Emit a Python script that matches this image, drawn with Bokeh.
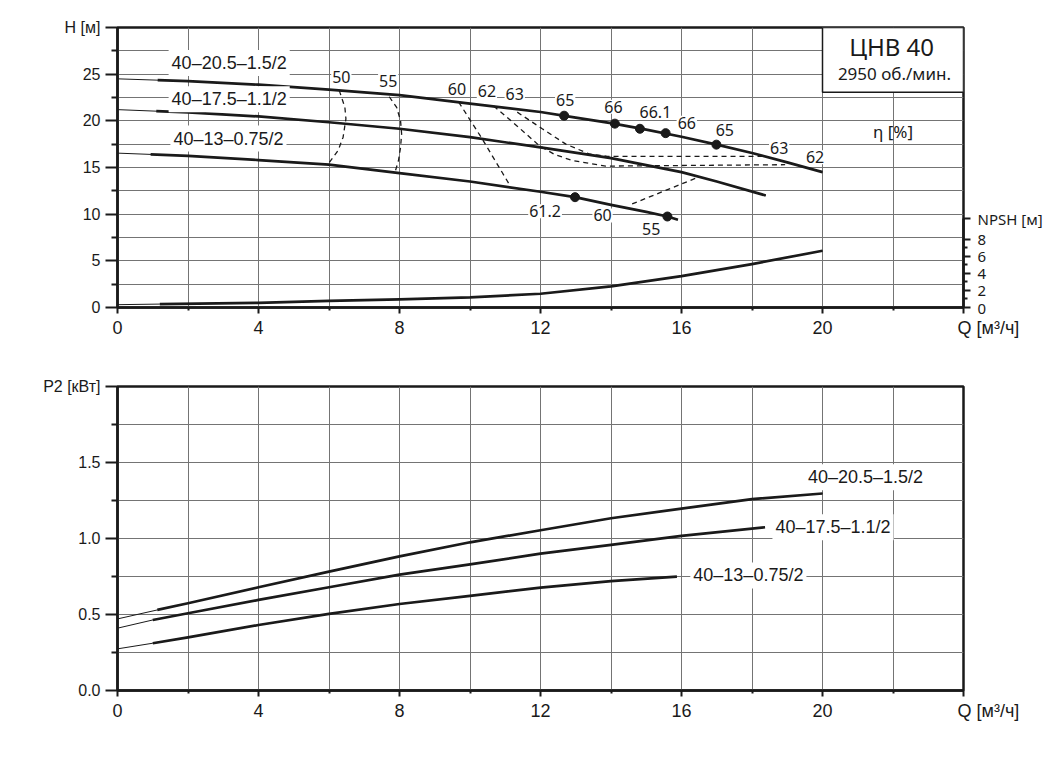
import numpy as np
from bokeh.plotting import figure
from bokeh.models import Range1d, LinearAxis, FixedTicker, Label, BoxAnnotation
from bokeh.layouts import column
from bokeh.embed import file_html
from bokeh.resources import INLINE

# ---------------- data ----------------
# Head curves H(Q)
q_top = [0, 2, 4, 6, 8, 10, 12, 13, 14, 15, 16, 17, 18, 19, 20]
h_top = [24.5, 24.25, 23.87, 23.35, 22.75, 21.85, 20.95, 20.35, 19.75, 19.05, 18.3, 17.45, 16.55, 15.55, 14.5]
q_mid = [0, 2, 4, 6, 8, 10, 12, 14, 16, 17, 18.39]
h_mid = [21.2, 20.9, 20.47, 19.85, 19.15, 18.25, 17.15, 16.0, 14.5, 13.5, 12.0]
q_low = [0, 2, 4, 6, 8, 10, 12, 12.98, 14, 15, 15.6, 15.9]
h_low = [16.54, 16.25, 15.8, 15.3, 14.4, 13.5, 12.4, 11.82, 11.0, 10.25, 9.75, 9.4]

# efficiency points (dots)
dot_q_top = [12.67, 14.11, 14.82, 15.55, 16.99]
dot_h_top = [20.55, 19.7, 19.15, 18.68, 17.45]
dot_q_low = [12.98, 15.6]
dot_h_low = [11.82, 9.75]

# iso-efficiency dashed lines
eta50_q = [6.29, 6.45, 6.48, 6.40, 6.26, 5.97]
eta50_h = [23.26, 21.47, 20.22, 18.25, 16.83, 15.33]
eta55_q = [7.71, 7.92, 8.03, 8.06, 8.03, 7.97, 7.87]
eta55_h = [22.58, 21.43, 20.0, 18.6, 17.15, 15.72, 14.47]
eta60a_q = [9.68, 10.34, 11.15]
eta60a_h = [22.0, 18.1, 12.97]
eta60b_q = [14.6, 16.5]
eta60b_h = [11.1, 14.0]
eta62_q = [10.67, 11.35, 11.96, 12.4, 12.9, 13.85, 18.94]
eta62_h = [21.6, 19.4, 17.36, 16.4, 15.75, 15.15, 15.3]
eta63_q = [11.34, 12.05, 12.72, 13.38, 13.9, 18.4]
eta63_h = [20.93, 19.15, 17.5, 16.45, 16.2, 16.2]

# efficiency labels
eta_txt = ["50", "55", "60", "62", "63", "65", "66", "66.1", "66", "65", "63", "62", "61.2", "60", "55"]
eta_q = [6.35, 7.68, 9.63, 10.48, 11.27, 12.7, 14.07, 15.26, 16.15, 17.23, 18.77, 19.79, 12.13, 13.76, 15.14]
eta_h = [24.75, 24.3, 23.4, 23.2, 22.9, 22.26, 21.5, 20.9, 19.8, 19.0, 17.1, 16.1, 10.3, 9.86, 8.43]

# NPSH curve
q_npsh = [0, 1.2, 4, 6, 8, 10, 12, 14, 16, 18, 20]
npsh = [0.33, 0.4, 0.55, 0.77, 0.95, 1.18, 1.61, 2.48, 3.67, 5.08, 6.65]

# Power curves P2(Q)
q_p_top = [0, 1.13, 2, 4, 6, 8, 10, 12, 14, 16, 18, 20]
p_top = [0.471, 0.53, 0.574, 0.679, 0.782, 0.882, 0.975, 1.054, 1.133, 1.197, 1.259, 1.296]
q_p_mid = [0, 1, 2, 4, 6, 8, 10, 12, 14, 16, 18.37]
p_mid = [0.41, 0.464, 0.508, 0.596, 0.679, 0.762, 0.83, 0.90, 0.958, 1.017, 1.074]
q_p_low = [0, 1, 2, 4, 6, 8, 10, 12, 14, 15.87]
p_low = [0.274, 0.311, 0.35, 0.431, 0.504, 0.569, 0.622, 0.677, 0.72, 0.749]

model_names = ["40–20.5–1.5/2", "40–17.5–1.1/2", "40–13–0.75/2"]

q_ticks = [0, 4, 8, 12, 16, 20, 24]
q_minor = [2, 6, 10, 14, 18, 22]
h_ticks = [0, 5, 10, 15, 20, 25, 30]
h_minor = [2.5, 7.5, 12.5, 17.5, 22.5, 27.5]
npsh_ticks = [0, 2, 4, 6, 8, 10.4]
npsh_minor = [1, 3, 5, 7]
p_ticks = [0, 0.5, 1.0, 1.5, 2.0]
p_minor = [0.25, 0.75, 1.25, 1.75]

NB = "\u00a0" * 10
q_label = NB + "Q [м³/ч]"

# ---------------- styling ----------------
INK = "#1a1a1a"
GRID = "#747474"
ARIAL = "Liberation Sans"
MYR = "Noto Sans"


def style(p, xt, xm, yt, ym, yover):
    p.outline_line_color = INK
    p.outline_line_width = 2.5
    p.outline_line_alpha = 1
    p.background_fill_color = "white"
    p.border_fill_color = "white"
    p.xaxis.ticker = FixedTicker(ticks=xt, minor_ticks=xm)
    p.yaxis.ticker = FixedTicker(ticks=yt, minor_ticks=ym)
    for g in (p.xgrid, p.ygrid):
        g.grid_line_color = GRID
        g.grid_line_width = 1
        g.minor_grid_line_color = GRID
        g.minor_grid_line_width = 1
    for ax in (p.xaxis, p.yaxis):
        ax.axis_line_color = INK
        ax.axis_line_width = 2.5
        ax.major_tick_line_color = INK
        ax.minor_tick_line_color = INK
        ax.major_tick_line_width = 2
        ax.minor_tick_line_width = 2
        ax.major_tick_in = 0
        ax.minor_tick_in = 0
        ax.major_label_text_color = INK
        ax.major_label_text_font = ARIAL
    p.xaxis.major_tick_out = 6
    p.xaxis.minor_tick_out = 3
    p.xaxis.major_label_text_font_size = "18px"
    p.xaxis.major_label_standoff = 4
    p.xaxis.major_label_overrides = {24: q_label}
    p.yaxis.major_tick_out = 12
    p.yaxis.minor_tick_out = 6
    p.yaxis.major_label_text_font_size = "16px"
    p.yaxis.major_label_standoff = 5
    p.yaxis.major_label_overrides = yover


def curve(p, q, h, q0, width=2.7, **kw):
    p.line(q, h, line_width=1, color=INK, **kw)
    qq = np.asarray(q, dtype=float)
    hh = np.asarray(h, dtype=float)
    m = qq > q0
    qt = np.concatenate([[q0], qq[m]])
    ht = np.concatenate([[np.interp(q0, qq, hh)], hh[m]])
    p.line(qt, ht, line_width=width, color=INK, line_join="round", **kw)


def text(p, x, y, t, size, font=ARIAL, align="left", bg=True, pad=2):
    lab = Label(x=x, y=y, text=t, text_font=font, text_font_size=size,
                text_color=INK, text_align=align, text_baseline="middle")
    if bg:
        lab.background_fill_color = "white"
        lab.background_fill_alpha = 1
        lab.padding = pad
    p.add_layout(lab)


# ---------------- top figure: H and NPSH ----------------
p1 = figure(width=1048, height=357, x_range=Range1d(0, 24), y_range=Range1d(0, 30),
            output_backend="svg", toolbar_location=None,
            min_border_left=117, min_border_right=85, min_border_top=27, min_border_bottom=50)
style(p1, q_ticks, q_minor, h_ticks, h_minor, {30: "H [м]"})

p1.extra_y_ranges = {"npsh": Range1d(0, 32.8)}
ax_n = LinearAxis(y_range_name="npsh", ticker=FixedTicker(ticks=npsh_ticks, minor_ticks=npsh_minor),
                  bounds=(0, 10.4))
ax_n.axis_line_color = INK
ax_n.axis_line_width = 2.5
ax_n.major_tick_line_color = INK
ax_n.minor_tick_line_color = INK
ax_n.major_tick_line_width = 2
ax_n.minor_tick_line_width = 2
ax_n.major_tick_in = 0
ax_n.minor_tick_in = 0
ax_n.major_tick_out = 7
ax_n.minor_tick_out = 4
ax_n.major_label_text_font = MYR
ax_n.major_label_text_font_size = "15px"
ax_n.major_label_text_color = INK
ax_n.major_label_standoff = 7
ax_n.major_label_overrides = {10.4: "NPSH [м]"}
p1.add_layout(ax_n, "right")

dash = dict(line_dash="5 4", line_width=1.3, color=INK)
for qq, hh in ((eta50_q, eta50_h), (eta55_q, eta55_h), (eta60a_q, eta60a_h), (eta60b_q, eta60b_h),
               (eta62_q, eta62_h), (eta63_q, eta63_h)):
    p1.line(qq, hh, **dash)

curve(p1, q_top, h_top, 1.14)
curve(p1, q_mid, h_mid, 1.1)
curve(p1, q_low, h_low, 0.94)
curve(p1, q_npsh, npsh, 1.2, y_range_name="npsh")

p1.scatter(dot_q_top, dot_h_top, size=9, color=INK)
p1.scatter(dot_q_low, dot_h_low, size=9, color=INK)

for t, x, y in zip(eta_txt, eta_q, eta_h):
    text(p1, x, y, t, "16px", font=MYR, align="center", pad=1)

text(p1, 1.45, 26.2, model_names[0], "18px", pad=3)
text(p1, 1.45, 22.3, model_names[1], "18px", pad=3)
text(p1, 1.5, 18.1, model_names[2], "18px", pad=3)

p1.add_layout(BoxAnnotation(left=20, right=24, bottom=23.05, top=30, fill_color="white", fill_alpha=1,
                            line_color=INK, line_width=1.5, line_alpha=1))
text(p1, 21.96, 27.97, "ЦНВ 40", "24px", font=MYR, align="center", bg=False)
text(p1, 22.04, 25.07, "2950 об./мин.", "17px", font=MYR, align="center", bg=False)
text(p1, 22.0, 18.9, "η [%]", "17px", font=MYR, align="center", bg=False)

# ---------------- bottom figure: P2 ----------------
p2 = figure(width=1048, height=378, x_range=Range1d(0, 24), y_range=Range1d(0, 2.0),
            output_backend="svg", toolbar_location=None,
            min_border_left=117, min_border_right=85, min_border_top=29, min_border_bottom=45)
style(p2, q_ticks, q_minor, p_ticks, p_minor,
      {0: "0.0", 0.5: "0.5", 1: "1.0", 1.5: "1.5", 2: "P2 [кВт]"})

curve(p2, q_p_top, p_top, 1.13)
curve(p2, q_p_mid, p_mid, 1.0)
curve(p2, q_p_low, p_low, 1.0)

text(p2, 19.5, 1.403, model_names[0], "18px", pad=3)
text(p2, 18.58, 1.074, model_names[1], "18px", pad=3)
text(p2, 16.25, 0.757, model_names[2], "18px", pad=3)

layout = column(p1, p2, spacing=0)
open("out.html", "w").write(file_html(layout, INLINE))
